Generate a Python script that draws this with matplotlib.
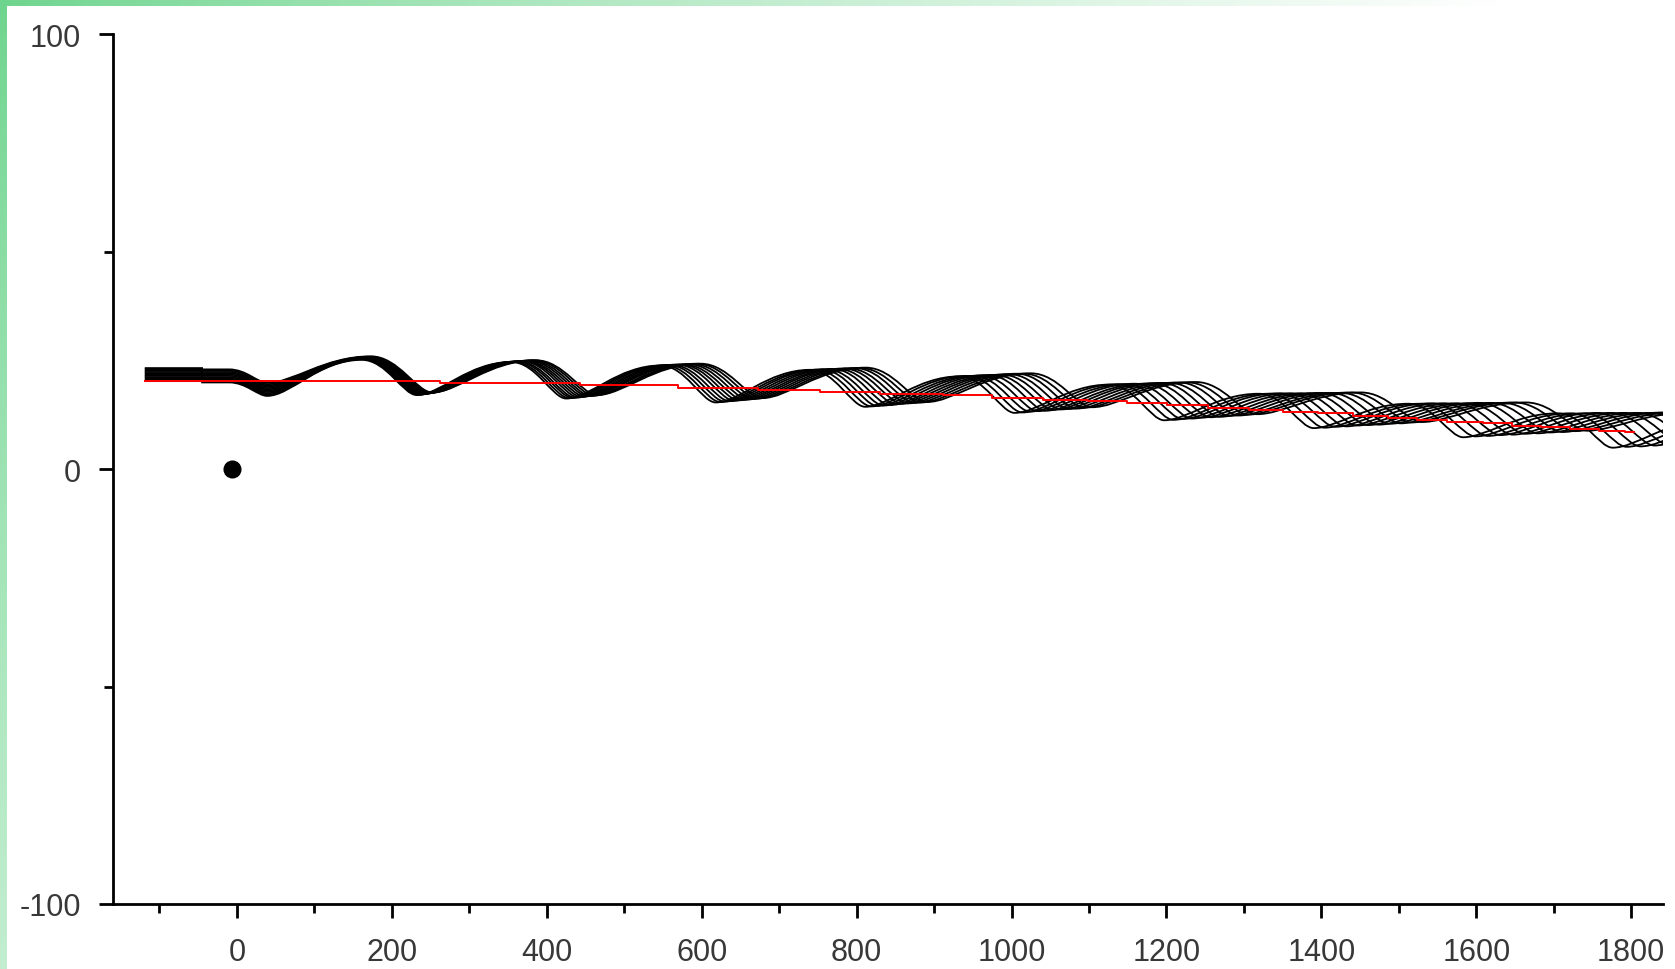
import numpy as np
import matplotlib
matplotlib.use('Agg')
import matplotlib.pyplot as plt
from matplotlib.path import Path
from matplotlib.patches import PathPatch


############## Data ##############

# flat lead-in of the black curves: x shared, level per curve
lead_x = [-119, -45, -45, -10]
lead_hi = [20.2, 20.5, 20.8, 21.1, 21.4, 21.7, 22.0, 22.3, 22.6, 22.9, 23.2]
lead_lo = [19.9, 20.2, 20.5, 20.8, 21.1, 21.4, 21.7, 22.0, 22.3, 22.6, 22.9]

# troughs / peaks of each black curve, order T0 P0 T1 P1 ... T9 P9
ext_x = [
    [39, 161, 232, 354, 425, 547, 618, 740, 811, 933, 1004, 1126, 1197, 1319, 1390, 1512, 1583, 1705, 1776, 1898],
    [39, 162, 234, 357, 429, 552, 624, 747, 819, 942, 1014, 1137, 1209, 1332, 1404, 1527, 1599, 1722, 1794, 1917],
    [39, 163, 236, 360, 433, 557, 630, 754, 827, 951, 1024, 1148, 1221, 1345, 1418, 1542, 1615, 1739, 1812, 1936],
    [39, 164, 238, 363, 437, 562, 636, 761, 835, 960, 1034, 1159, 1233, 1358, 1432, 1557, 1631, 1756, 1830, 1955],
    [39, 166, 240, 367, 441, 568, 642, 769, 843, 970, 1044, 1171, 1245, 1372, 1446, 1573, 1647, 1774, 1848, 1975],
    [39, 167, 242, 370, 445, 573, 648, 776, 851, 979, 1054, 1182, 1257, 1385, 1460, 1588, 1663, 1791, 1866, 1994],
    [39, 168, 244, 373, 449, 578, 654, 783, 859, 988, 1064, 1193, 1269, 1398, 1474, 1603, 1679, 1808, 1884, 2013],
    [39, 169, 246, 376, 453, 583, 660, 790, 867, 997, 1074, 1204, 1281, 1411, 1488, 1618, 1695, 1825, 1902, 2032],
    [39, 171, 248, 380, 457, 589, 666, 798, 875, 1007, 1084, 1216, 1293, 1425, 1502, 1634, 1711, 1843, 1920, 2052],
    [39, 172, 250, 383, 461, 594, 672, 805, 883, 1016, 1094, 1227, 1305, 1438, 1516, 1649, 1727, 1860, 1938, 2071],
    [39, 173, 252, 386, 465, 599, 678, 812, 891, 1025, 1104, 1238, 1317, 1451, 1530, 1664, 1743, 1877, 1956, 2090],
]
ext_y = [
    [16.8, 25.1, 17.0, 24.6, 16.2, 23.8, 15.3, 22.8, 14.3, 21.3, 12.9, 19.4, 11.2, 17.3, 9.4, 15.0, 7.3, 12.8, 4.9, 11.0],
    [17.1, 25.2, 17.1, 24.6, 16.3, 23.8, 15.4, 22.8, 14.4, 21.4, 13.0, 19.5, 11.3, 17.3, 9.5, 15.0, 7.5, 12.8, 5.1, 11.0],
    [17.4, 25.3, 17.1, 24.7, 16.4, 23.9, 15.5, 22.9, 14.5, 21.4, 13.2, 19.5, 11.5, 17.4, 9.7, 15.1, 7.6, 12.8, 5.2, 11.1],
    [17.7, 25.3, 17.2, 24.7, 16.4, 23.9, 15.6, 22.9, 14.6, 21.5, 13.3, 19.6, 11.6, 17.4, 9.8, 15.1, 7.8, 12.9, 5.4, 11.1],
    [18.0, 25.4, 17.2, 24.8, 16.5, 24.0, 15.7, 23.0, 14.7, 21.6, 13.4, 19.6, 11.8, 17.4, 10.0, 15.1, 7.9, 12.9, 5.6, 11.2],
    [18.3, 25.5, 17.3, 24.8, 16.6, 24.0, 15.8, 23.0, 14.9, 21.6, 13.6, 19.7, 11.9, 17.4, 10.1, 15.1, 8.1, 12.9, 5.8, 11.2],
    [18.6, 25.6, 17.4, 24.8, 16.7, 24.0, 15.9, 23.1, 15.0, 21.7, 13.7, 19.8, 12.0, 17.5, 10.2, 15.2, 8.2, 12.9, 5.9, 11.3],
    [18.9, 25.7, 17.4, 24.9, 16.8, 24.1, 16.0, 23.1, 15.1, 21.8, 13.8, 19.8, 12.2, 17.5, 10.4, 15.2, 8.4, 12.9, 6.1, 11.3],
    [19.2, 25.7, 17.5, 24.9, 16.8, 24.1, 16.1, 23.2, 15.2, 21.9, 13.9, 19.9, 12.3, 17.5, 10.5, 15.2, 8.5, 13.0, 6.3, 11.4],
    [19.5, 25.8, 17.5, 25.0, 16.9, 24.2, 16.2, 23.2, 15.3, 21.9, 14.1, 19.9, 12.5, 17.6, 10.7, 15.3, 8.7, 13.0, 6.4, 11.4],
    [19.8, 25.9, 17.6, 25.0, 17.0, 24.2, 16.3, 23.3, 15.4, 22.0, 14.2, 20.0, 12.6, 17.6, 10.8, 15.3, 8.8, 13.0, 6.6, 11.5],
]

# red step line
red_x = [-119, 262, 443, 570, 673, 753, 830, 912, 975, 1041, 1099, 1149, 1201, 1254,
         1306, 1350, 1395, 1441, 1486, 1523, 1562, 1609, 1646, 1683, 1721, 1758, 1792, 1803]
red_y = [20.2, 19.7, 19.2, 18.6, 18.2, 17.8, 17.3, 16.9, 16.4, 15.9, 15.6, 15.1, 14.6, 14.0,
         13.5, 13.2, 12.8, 12.2, 11.7, 11.3, 10.9, 10.5, 10.0, 9.6, 9.2, 8.8, 8.4, 8.4]

dot_x = [-7]
dot_y = [0]

x_major = [0, 200, 400, 600, 800, 1000, 1200, 1400, 1600, 1800]
x_minor = [-100, 100, 300, 500, 700, 900, 1100, 1300, 1500, 1700]
y_major = [-100, 0, 100]
y_minor = [-50, 50]


############## Figure ##############

plt.rcParams['font.family'] = ['Liberation Sans', 'DejaVu Sans']
plt.rcParams['axes.unicode_minus'] = False

W, H = 1675, 970
fig = plt.figure(figsize=(W / 100, H / 100), dpi=100)

# green gradient frame on top and left edge
bg = fig.add_axes([0, 0, 1, 1], zorder=-5)
yy, xx = np.mgrid[0:H, 0:W]
t = np.clip((xx + 0.8 * yy) / 1500.0, 0, 1) ** 0.8
green = np.array([108, 212, 140]) / 255.0
img = np.ones((H, W, 3))
strip = (yy < 7) | (xx < 7)
img[strip] = green * (1 - t[strip, None]) + t[strip, None]
bg.imshow(img, aspect='auto', extent=[0, 1, 0, 1], interpolation='nearest')
bg.axis('off')

ax = fig.add_axes([113 / W, 1 - 905 / H, 1550 / W, 870 / H])
ax.set_facecolor('none')

# black curves: broad rounded peaks, tighter troughs
for k in range(len(ext_x)):
    verts = [(lead_x[0], lead_hi[k]), (lead_x[1], lead_hi[k]),
             (lead_x[2], lead_lo[k]), (lead_x[3], lead_lo[k])]
    codes = [Path.MOVETO, Path.LINETO, Path.LINETO, Path.LINETO]
    px, py = lead_x[3], lead_lo[k]
    for x, y in zip(ext_x[k], ext_y[k]):
        d = x - px
        a = 0.45 if py > y else 0.25
        b = 0.45 if y > py else 0.25
        verts += [(px + a * d, py), (x - b * d, y), (x, y)]
        codes += [Path.CURVE4] * 3
        px, py = x, y
    ax.add_patch(PathPatch(Path(verts, codes), fill=False, edgecolor='black', lw=1.3, zorder=2))

ax.step(red_x, red_y, where='post', color='#ff0000', lw=1.4, zorder=3)
ax.plot(dot_x, dot_y, 'o', color='black', ms=12, zorder=4)

ax.set_xlim(-160, 1841)
ax.set_ylim(-100, 100)

for s in ['top', 'right']:
    ax.spines[s].set_visible(False)
for s in ['left', 'bottom']:
    ax.spines[s].set_linewidth(2.0)

ax.set_xticks(x_major)
ax.set_xticks(x_minor, minor=True)
ax.set_yticks(y_major)
ax.set_yticks(y_minor, minor=True)
ax.tick_params(which='major', direction='out', length=10, width=2.0, labelsize=22,
               labelcolor='#383838')
ax.tick_params(which='minor', direction='out', length=6.5, width=2.0)
ax.tick_params(axis='x', which='major', pad=14)
ax.tick_params(axis='y', which='major', pad=13)

fig.savefig('out.png', dpi=100)
